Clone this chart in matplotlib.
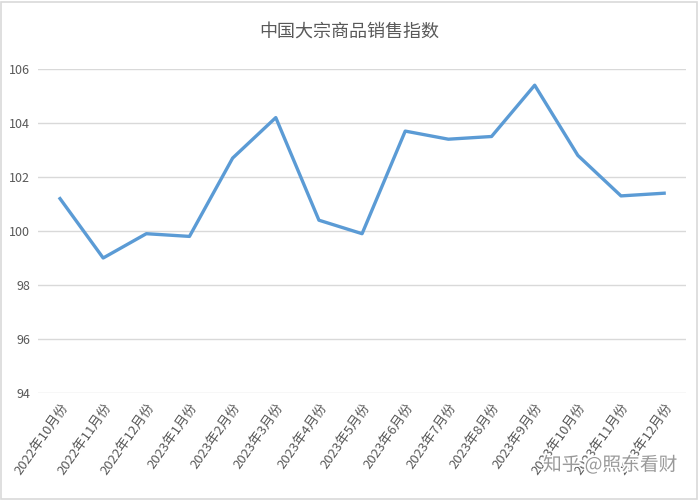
import matplotlib
matplotlib.use("Agg")
import matplotlib.pyplot as plt
import matplotlib.patheffects as pe
from matplotlib.patches import Rectangle

plt.rcParams['font.family'] = ['Noto Sans CJK SC', 'DejaVu Sans']

title = "中国大宗商品销售指数"
categories = ["2022年10月份", "2022年11月份", "2022年12月份", "2023年1月份", "2023年2月份",
              "2023年3月份", "2023年4月份", "2023年5月份", "2023年6月份", "2023年7月份",
              "2023年8月份", "2023年9月份", "2023年10月份", "2023年11月份", "2023年12月份"]
values = [101.2, 99.0, 99.9, 99.8, 102.7, 104.2, 100.4, 99.9, 103.7, 103.4, 103.5, 105.4, 102.8, 101.3, 101.4]
yticks = [94, 96, 98, 100, 102, 104, 106]
watermark = "知乎 @照东看财"

fig = plt.figure(figsize=(6.99, 5.0), dpi=100)
ax = fig.add_axes([0.055, 0.214, 0.926, 0.648])

x = list(range(len(categories)))
ax.plot(x, values, color='#5B9BD5', linewidth=2.4, solid_joinstyle='round', zorder=3)

ax.set_xlim(-0.5, len(categories) - 0.5)
ax.set_ylim(94, 106)
ax.set_yticks(yticks)
ax.set_yticklabels([str(v) for v in yticks], color='#595959', fontsize=9)
ax.yaxis.grid(True, color='#D9D9D9', linewidth=1.0)
ax.set_axisbelow(True)
ax.set_xticks(x)
ax.set_xticklabels(categories, rotation=55, ha='right', va='top', rotation_mode='anchor',
                   color='#595959', fontsize=9.5)
ax.tick_params(axis='x', length=0, pad=6)
ax.tick_params(axis='y', length=0, pad=6)
for s in ax.spines.values():
    s.set_visible(False)

fig.text(0.5, 0.936, title, ha='center', va='center', fontsize=13, color='#595959')

fig.patches.append(Rectangle((0.002, 0.003), 0.995, 0.994, transform=fig.transFigure,
                             fill=False, edgecolor='#D9D9D9', linewidth=1.2))

fig.text(0.873, 0.07, watermark, ha='center', va='center', fontsize=13.5, color='#9A9A9A',
         path_effects=[pe.withStroke(linewidth=2.5, foreground='white')])

fig.savefig("out.png", dpi=100)
